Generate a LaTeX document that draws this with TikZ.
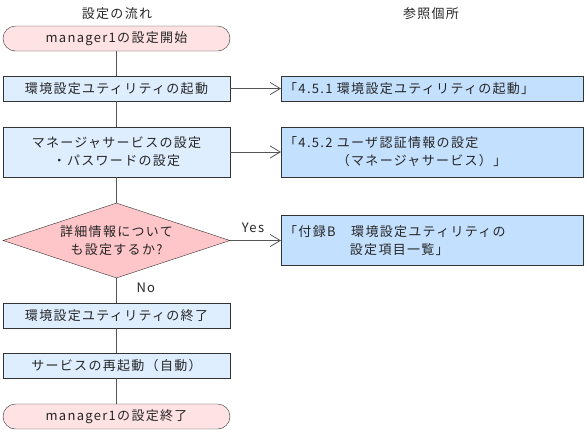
\documentclass[tikz,border=0pt]{standalone}
\usepackage{fontspec}
\newfontfamily\jpfont[LetterSpace=10]{Noto Sans CJK JP}
\usetikzlibrary{arrows.meta,shapes.geometric}
\definecolor{termfill}{RGB}{255,226,228}
\definecolor{askfill}{RGB}{255,198,202}
\definecolor{stepfill}{RGB}{222,238,255}
\definecolor{reffill}{RGB}{196,224,255}
\definecolor{linegray}{RGB}{85,85,85}
\tikzset{
  every node/.style={font={\jpfont\fontsize{13}{18}\selectfont}, text=black!85},
  terminal/.style={draw=black!80, fill=termfill, rounded corners=12.5pt,
    minimum width=227pt, minimum height=25pt, inner sep=0pt},
  stepbox/.style={draw=black!80, fill=stepfill, minimum width=227pt,
    minimum height=25pt, inner sep=0pt, align=center},
  askbox/.style={draw=black!80, fill=askfill, shape=diamond, aspect=3.03,
    minimum width=227pt, minimum height=75pt, inner sep=0pt, align=center},
  refbox/.style={draw=black!80, fill=reffill, anchor=west, minimum height=25pt,
    inner xsep=3pt, inner ysep=0pt, text width=296pt, align=left},
  flow/.style={draw=linegray, line width=1pt},
  refarrow/.style={draw=linegray, line width=1pt, -{Straight Barb[length=10pt,width=12pt,line width=0.8pt]}}
}
\begin{document}
\begin{tikzpicture}[x=1pt,y=-1pt]
      \useasboundingbox (0,0) rectangle (587,432);
      % column titles
      \node (flowtitle) at (117,14) {設定の流れ};
      \node (reftitle) at (431,14) {参照個所};
      % flow on the left
      \node [terminal] (start) at (116.5,38.5) {manager1の設定開始};
      \node [stepbox] (util) at (116.5,88.5) {環境設定ユティリティの起動};
      \node [stepbox, minimum height=50pt] (mgr) at (116.5,152) {マネージャサービスの設定\\・パスワードの設定};
      \node [askbox] (detail) at (116.5,240.5) {詳細情報について\\も設定するか?};
      \node [stepbox] (utilend) at (116.5,315.5) {環境設定ユティリティの終了};
      \node [stepbox] (restart) at (116.5,365.5) {サービスの再起動（自動）};
      \node [terminal] (finish) at (116.5,416.5) {manager1の設定終了};
      % references on the right
      \node [refbox] (ref1) at (281,88.5) {「4.5.1 環境設定ユティリティの起動」};
      \node [refbox, minimum height=50pt] (ref2) at (281,152) {「4.5.2 ユーザ認証情報の設定\\\phantom{「4.5.2 }（マネージャサービス）」};
      \node [refbox, minimum height=50pt] (ref3) at (281,240.5) {「付録B　環境設定ユティリティの\\\phantom{「付録B　}設定項目一覧」};
      % connectors
      \draw [flow] (start) -- (util);
      \draw [flow] (util) -- (mgr);
      \draw [flow] (mgr) -- (detail);
      \draw [flow] (detail) -- (utilend);
      \draw [flow] (utilend) -- (restart);
      \draw [flow] (restart) -- (finish);
      \draw [refarrow] (util) -- (ref1);
      \draw [refarrow] (mgr) -- (ref2);
      \draw [refarrow] (detail) -- (ref3);
      \node (yes) at (253,228) {Yes};
      \node [anchor=west] (no) at (133,288) {No};
\end{tikzpicture}
\end{document}
